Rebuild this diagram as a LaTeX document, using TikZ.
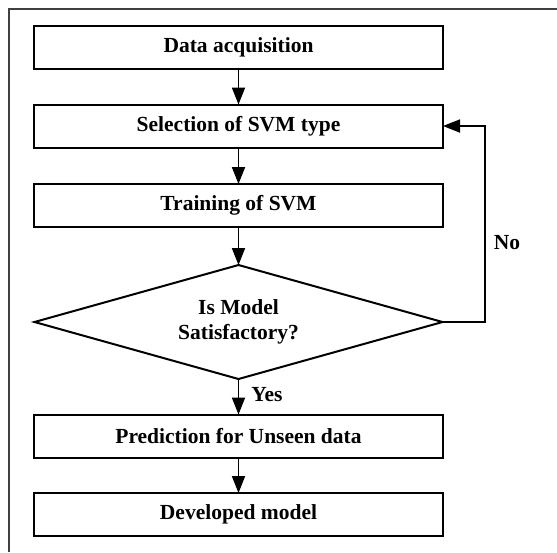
\documentclass[tikz,border=0pt]{standalone}
\usepackage{fontspec}
\setmainfont{Liberation Serif}
\usetikzlibrary{arrows.meta,shapes.geometric}
\begin{document}
\begin{tikzpicture}[x=1pt,y=-1pt,
  font=\fontsize{21.5}{24.5}\selectfont\bfseries,
  procbox/.style={draw=black,line width=2pt,rectangle,minimum width=409pt,minimum height=43pt,inner sep=0pt,outer sep=0pt,fill=white},
  decbox/.style={draw=black,line width=2pt,diamond,minimum width=408pt,minimum height=114pt,inner sep=0pt,outer sep=0pt,aspect=3.58,align=center},
  flow/.style={line width=1.8pt,-{Triangle[length=17pt,width=13pt]}},
  lbl/.style={inner sep=0pt}]
\useasboundingbox (0,0) rectangle (557,552);
\draw[black!75,line width=1.3pt] (9,552) -- (9,9) -- (557,9);
\node[procbox] (acq) at (238.5,47.5) {Data acquisition};
\node[procbox] (sel) at (238.5,126) {Selection of SVM type};
\node[procbox] (trn) at (238.5,205.5) {Training of SVM};
\node[decbox] (dec) at (238.5,322) {Is Model\\Satisfactory?};
\node[procbox] (pred) at (238.5,436) {Prediction for Unseen data};
\node[procbox] (dev) at (238.5,514.5) {Developed model};
\coordinate (fb) at (485,322);
\draw[flow] (acq.south) -- (sel.north);
\draw[flow] (sel.south) -- (trn.north);
\draw[flow] (trn.south) -- (dec.north);
\draw[flow] (dec.south) -- (pred.north);
\draw[flow] (pred.south) -- (dev.north);
\draw[flow] (dec.east) -- (fb) |- (sel.east);
\node[lbl] (no) at (507,243) {No};
\node[lbl] (yes) at (267,395) {Yes};
\end{tikzpicture}
\end{document}
